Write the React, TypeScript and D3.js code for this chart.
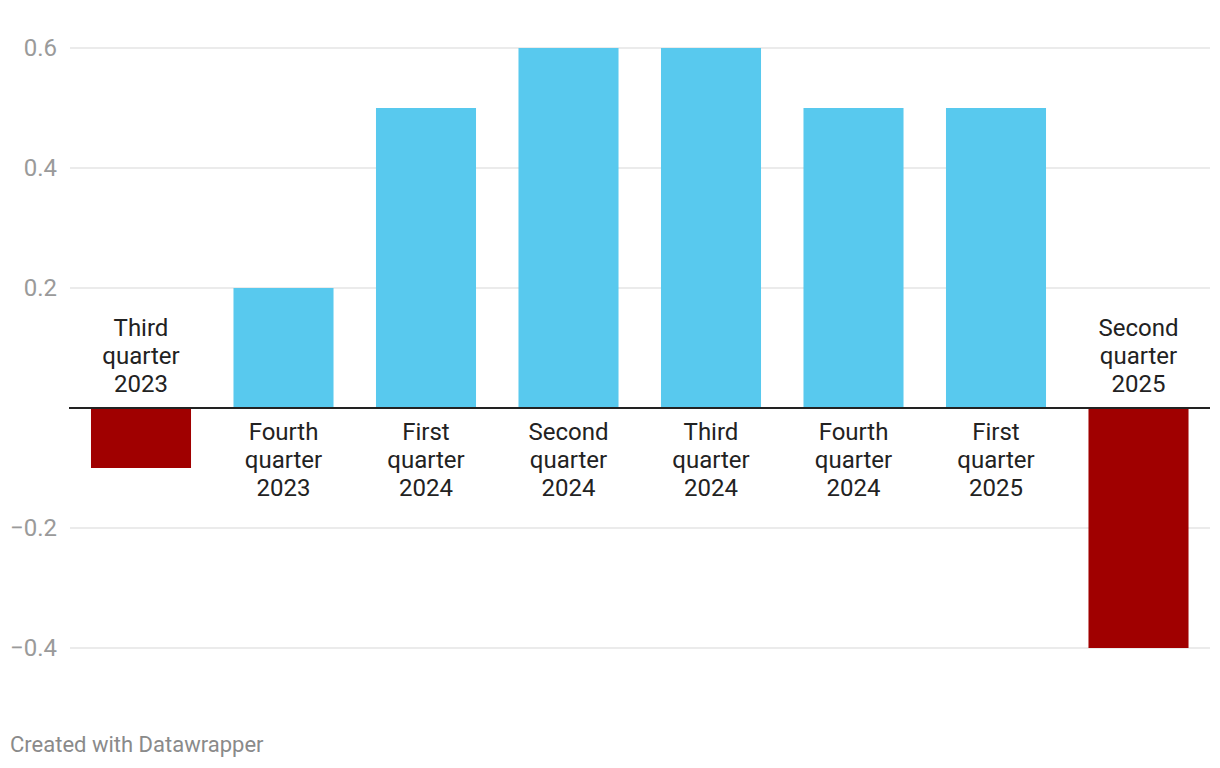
import React from "react";
import * as d3 from "d3";

const categories: string[][] = [
  ["Third", "quarter", "2023"],
  ["Fourth", "quarter", "2023"],
  ["First", "quarter", "2024"],
  ["Second", "quarter", "2024"],
  ["Third", "quarter", "2024"],
  ["Fourth", "quarter", "2024"],
  ["First", "quarter", "2025"],
  ["Second", "quarter", "2025"],
];
const values: number[] = [-0.1, 0.2, 0.5, 0.6, 0.6, 0.5, 0.5, -0.4];
const yTicks: number[] = [-0.4, -0.2, 0.2, 0.4, 0.6];

const W = 1220;
const H = 768;

export default function App() {
  const x = d3
    .scaleBand<number>()
    .domain(values.map((_, i) => i))
    .range([69.75, 1209.75])
    .paddingInner(0.298)
    .paddingOuter(0.149);
  const y = d3.scaleLinear().domain([-0.4, 0.6]).range([648, 48]);
  const fmt = (v: number) => (v < 0 ? "\u2212" + Math.abs(v).toFixed(1) : v.toFixed(1));
  const font = "Roboto, sans-serif";
  const lh = 28;

  return (
    <div style={{ position: "absolute", left: 0, top: 0 }}>
      <svg width={W} height={H} style={{ display: "block", background: "#fff" }}>
        {yTicks.map((t) => (
          <g key={t}>
            <line x1={70} x2={1210} y1={y(t)} y2={y(t)} stroke="#e5e5e5" strokeWidth={1.5} />
            <text
              x={57}
              y={y(t)}
              dy="0.35em"
              textAnchor="end"
              fontFamily={font}
              fontSize={24}
              fill="#9a9a9a"
            >
              {fmt(t)}
            </text>
          </g>
        ))}
        {values.map((v, i) => (
          <rect
            key={i}
            x={x(i)}
            width={x.bandwidth()}
            y={Math.min(y(v), y(0))}
            height={Math.abs(y(v) - y(0))}
            fill={v < 0 ? "#a00000" : "#58c9ee"}
          />
        ))}
        <line x1={69} x2={1210} y1={y(0)} y2={y(0)} stroke="#222" strokeWidth={2} />
        {values.map((v, i) => {
          const cx = (x(i) as number) + x.bandwidth() / 2;
          const lines = categories[i];
          const firstBaseline =
            v < 0 ? y(0) - 16 - lh * (lines.length - 1) : y(0) + 32;
          return (
            <text
              key={"l" + i}
              textAnchor="middle"
              fontFamily={font}
              fontSize={24}
              fill="#222"
            >
              {lines.map((s, j) => (
                <tspan key={j} x={cx} y={firstBaseline + j * lh}>
                  {s}
                </tspan>
              ))}
            </text>
          );
        })}
        <text x={10} y={752} fontFamily={font} fontSize={22} fill="#8a8a8a">
          Created with Datawrapper
        </text>
      </svg>
    </div>
  );
}
